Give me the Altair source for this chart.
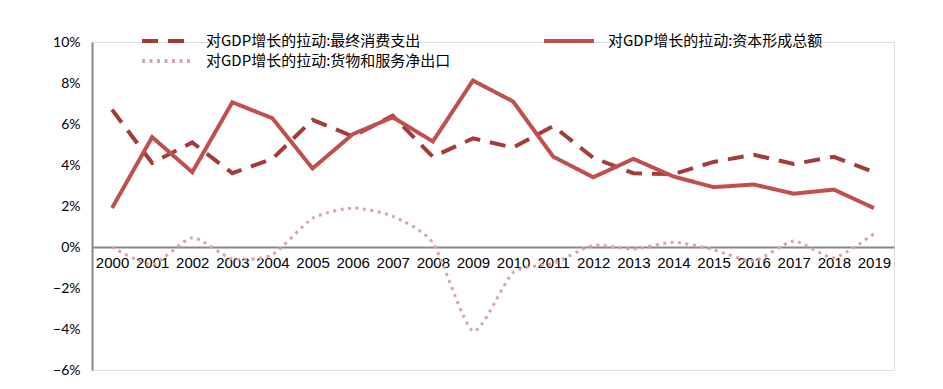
import altair as alt
import pandas as pd

years = [str(y) for y in range(2000, 2020)]
s_cons = "对GDP增长的拉动:最终消费支出"
s_cap = "对GDP增长的拉动:资本形成总额"
s_net = "对GDP增长的拉动:货物和服务净出口"
series = [s_cons, s_net, s_cap]

consumption = [6.7, 4.1, 5.1, 3.6, 4.3, 6.2, 5.4, 6.4, 4.4, 5.3, 4.85, 5.9, 4.35, 3.6, 3.55, 4.15, 4.5, 4.05, 4.4, 3.65]
capital = [1.9, 5.36, 3.65, 7.06, 6.28, 3.83, 5.5, 6.33, 5.15, 8.12, 7.1, 4.41, 3.4, 4.3, 3.44, 2.92, 3.05, 2.6, 2.8, 1.9]
net_exports = [0.0, -0.85, 0.45, -0.58, -0.37, 1.4, 1.9, 1.5, 0.2, -4.1, -1.25, -0.8, 0.08, -0.1, 0.23, -0.13, -0.68, 0.29, -0.52, 0.65]

colors = ["#A33B3B", "#D9A5A5", "#C0504D"]
dashes = [[16, 10], [3, 4.5], [1, 0]]

rows = []
for name, vals in zip([s_cons, s_cap, s_net], [consumption, capital, net_exports]):
    for y, v in zip(years, vals):
        rows.append({"year": y, "value": v, "series": name})
df = pd.DataFrame(rows)

x_enc = alt.X(
    "year:O",
    scale=alt.Scale(type="point", padding=0.5),
    axis=alt.Axis(
        title=None, ticks=False, labelAngle=0, labelFont="Liberation Sans",
        labelFontSize=15, labelColor="#000000", labelPadding=8,
        domainColor="#888888", domainWidth=2, offset=-123, grid=False,
    ),
)
y_enc = alt.Y(
    "value:Q",
    scale=alt.Scale(domain=[-6, 10], nice=False, zero=False),
    axis=alt.Axis(
        title=None, ticks=False, values=[-6, -4, -2, 0, 2, 4, 6, 8, 10],
        labelExpr="format(datum.value, 'd') + '%'", labelFont="Lato",
        labelFontSize=14, labelColor="#000000", labelPadding=12,
        domainColor="#888888", domainWidth=2, grid=False,
    ),
)


def make_legend():
    return alt.Legend(
        title=None, orient="none", legendX=48, legendY=-11, columns=2,
        columnPadding=91, rowPadding=0, clipHeight=20, symbolType="stroke",
        symbolSize=2500, symbolStrokeWidth=4, labelFont="Noto Sans CJK SC",
        labelFontSize=15, labelColor="#000000", labelLimit=500, labelOffset=12,
    )


color_enc = alt.Color("series:N", scale=alt.Scale(domain=series, range=colors), legend=make_legend())
dash_enc = alt.StrokeDash("series:N", scale=alt.Scale(domain=series, range=dashes), legend=make_legend())

base = alt.Chart(df)
straight = base.transform_filter(
    alt.FieldOneOfPredicate(field="series", oneOf=[s_cons, s_cap])
).mark_line(strokeWidth=4).encode(x=x_enc, y=y_enc, color=color_enc, strokeDash=dash_enc)

smooth = base.transform_filter(
    alt.FieldEqualPredicate(field="series", equal=s_net)
).mark_line(strokeWidth=3, interpolate="cardinal", tension=0.35).encode(
    x=x_enc, y=y_enc, color=color_enc, strokeDash=dash_enc
)

chart = alt.layer(straight, smooth).properties(
    width=802, height=328,
    autosize=alt.AutoSizeParams(type="none"),
    padding={"left": 84, "top": 34, "right": 30, "bottom": 8},
).configure_view(stroke=None).configure(background="white")

chart.save("out.html", embed_options={"renderer": "svg", "actions": False})
